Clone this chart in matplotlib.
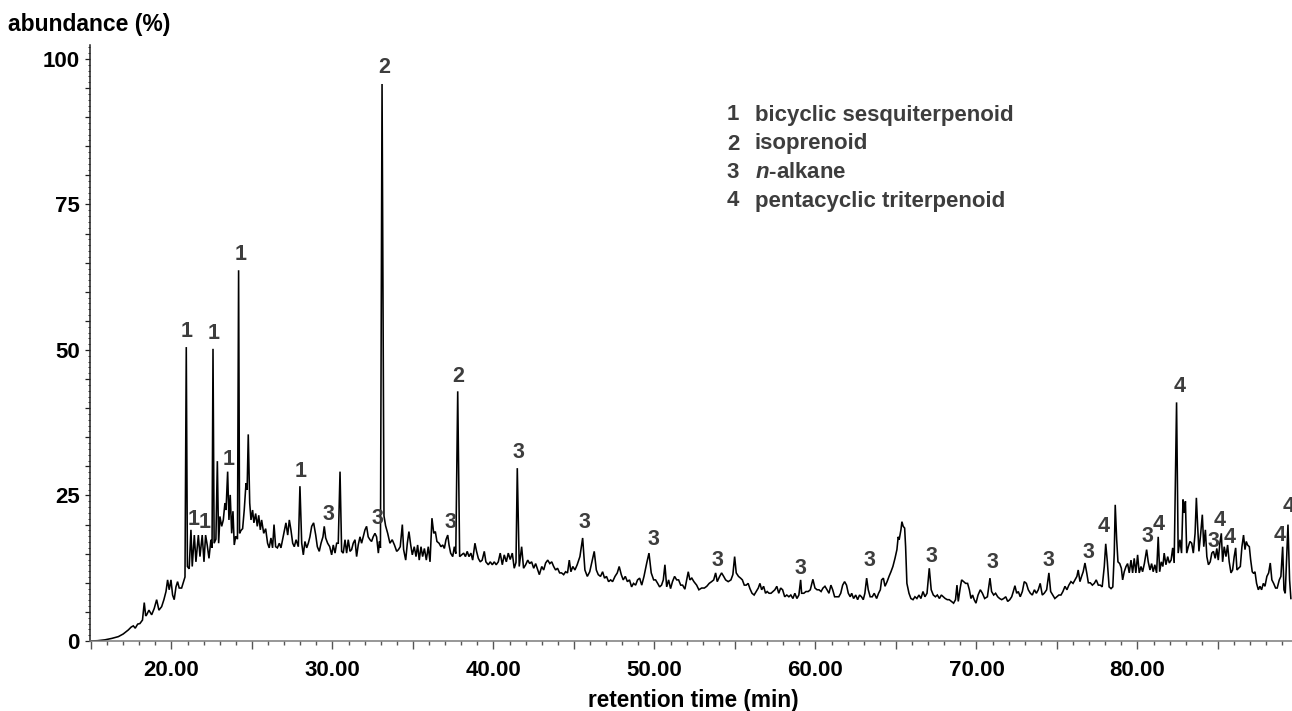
import matplotlib
matplotlib.use("Agg")
import matplotlib.pyplot as plt
from matplotlib.ticker import MultipleLocator, FuncFormatter

plt.rcParams['font.family'] = ['Liberation Sans', 'DejaVu Sans']
plt.rcParams['font.weight'] = 'bold'
plt.rcParams['mathtext.fontset'] = 'custom'
plt.rcParams['mathtext.it'] = 'Liberation Sans:italic:bold'
plt.rcParams['mathtext.rm'] = 'Liberation Sans:bold'

# ---------------- data (retention time in min, abundance in %) ----------------
time_min = [
    14.94, 15.4, 15.87, 16.3, 16.70, 17.0, 17.32, 17.5, 17.63, 17.75, 17.9, 18.04, 18.2, 18.31, 18.40,
    18.46, 18.60, 18.77, 18.93, 19.08, 19.22, 19.39, 19.53, 19.66, 19.76, 19.86, 19.97, 20.07, 20.17,
    20.28, 20.38, 20.48, 20.63, 20.78, 20.84, 20.92, 20.99, 21.10, 21.21, 21.29, 21.42, 21.52, 21.67,
    21.77, 21.91, 22.02, 22.12, 22.22, 22.33, 22.45, 22.52, 22.58, 22.65, 22.76, 22.85, 22.93, 23.01,
    23.12, 23.22, 23.32, 23.39, 23.49, 23.57, 23.65, 23.74, 23.82, 23.90, 23.99, 24.10, 24.17, 24.23,
    24.32, 24.42, 24.52, 24.63, 24.70, 24.77, 24.86, 24.94, 25.04, 25.12, 25.23, 25.33, 25.42, 25.52,
    25.60, 25.73, 25.85, 25.97, 26.07, 26.18, 26.28, 26.37, 26.47, 26.58, 26.70, 26.80, 26.90, 27.00,
    27.11, 27.22, 27.32, 27.42, 27.53, 27.63, 27.74, 27.88, 27.98, 28.09, 28.19, 28.29, 28.40, 28.50,
    28.60, 28.71, 28.83, 28.96, 29.06, 29.18, 29.29, 29.41, 29.49, 29.58, 29.70, 29.83, 29.95, 30.05,
    30.16, 30.26, 30.36, 30.47, 30.57, 30.67, 30.78, 30.88, 30.98, 31.09, 31.19, 31.29, 31.40, 31.50,
    31.60, 31.71, 31.81, 31.91, 32.02, 32.12, 32.22, 32.33, 32.43, 32.53, 32.64, 32.74, 32.85, 32.92,
    32.98, 33.08, 33.20, 33.30, 33.43, 33.57, 33.71, 33.85, 33.99, 34.10, 34.21, 34.34, 34.42, 34.55,
    34.65, 34.75, 34.86, 34.96, 35.08, 35.19, 35.29, 35.39, 35.50, 35.60, 35.71, 35.83, 35.95, 36.06,
    36.18, 36.29, 36.39, 36.49, 36.62, 36.74, 36.85, 36.95, 37.05, 37.16, 37.24, 37.34, 37.47, 37.57,
    37.66, 37.78, 37.90, 38.02, 38.15, 38.26, 38.37, 38.48, 38.60, 38.71, 38.85, 38.95, 39.06, 39.18,
    39.30, 39.43, 39.53, 39.68, 39.80, 39.93, 40.05, 40.17, 40.30, 40.42, 40.55, 40.67, 40.80, 40.92,
    41.04, 41.17, 41.29, 41.40, 41.48, 41.60, 41.75, 41.87, 42.00, 42.13, 42.25, 42.37, 42.50, 42.62,
    42.75, 42.85, 43.00, 43.12, 43.24, 43.37, 43.50, 43.62, 43.74, 43.86, 43.98, 44.11, 44.23, 44.36,
    44.48, 44.60, 44.71, 44.81, 44.93, 45.06, 45.20, 45.37, 45.54, 45.68, 45.83, 45.98, 46.10, 46.26,
    46.39, 46.51, 46.65, 46.78, 46.90, 47.02, 47.15, 47.28, 47.40, 47.55, 47.69, 47.81, 47.94, 48.06,
    48.19, 48.32, 48.45, 48.58, 48.70, 48.83, 48.95, 49.08, 49.21, 49.35, 49.52, 49.66, 49.80, 49.95,
    50.07, 50.20, 50.32, 50.44, 50.55, 50.65, 50.76, 50.88, 51.00, 51.12, 51.25, 51.38, 51.50, 51.63,
    51.75, 51.89, 52.00, 52.10, 52.20, 52.32, 52.45, 52.62, 52.76, 52.93, 53.10, 53.25, 53.40, 53.55,
    53.68, 53.80, 53.90, 54.05, 54.17, 54.30, 54.42, 54.58, 54.75, 54.87, 54.98, 55.08, 55.22, 55.35,
    55.46, 55.58, 55.70, 55.82, 55.93, 56.06, 56.19, 56.32, 56.45, 56.55, 56.66, 56.78, 56.90, 57.00,
    57.12, 57.24, 57.36, 57.48, 57.60, 57.72, 57.84, 57.96, 58.09, 58.22, 58.35, 58.47, 58.60, 58.72,
    58.85, 58.97, 59.08, 59.14, 59.28, 59.41, 59.55, 59.68, 59.84, 59.97, 60.10, 60.22, 60.35, 60.47,
    60.59, 60.72, 60.84, 60.96, 61.07, 61.19, 61.32, 61.45, 61.57, 61.69, 61.81, 61.93, 62.04, 62.16,
    62.25, 62.37, 62.50, 62.62, 62.74, 62.86, 62.97, 63.07, 63.18, 63.28, 63.40, 63.53, 63.65, 63.80,
    63.92, 64.03, 64.11, 64.22, 64.32, 64.45, 64.57, 64.69, 64.81, 64.94, 65.06, 65.14, 65.20, 65.31,
    65.37, 65.45, 65.54, 65.60, 65.68, 65.81, 65.93, 66.06, 66.18, 66.30, 66.43, 66.55, 66.68, 66.80,
    66.93, 67.07, 67.19, 67.32, 67.45, 67.57, 67.70, 67.82, 67.94, 68.06, 68.19, 68.31, 68.44, 68.58,
    68.70, 68.79, 68.87, 68.99, 69.08, 69.20, 69.33, 69.45, 69.56, 69.66, 69.76, 69.86, 69.97, 70.10,
    70.24, 70.37, 70.51, 70.68, 70.84, 70.94, 71.07, 71.19, 71.32, 71.44, 71.57, 71.69, 71.82, 71.94,
    72.07, 72.19, 72.29, 72.39, 72.50, 72.60, 72.72, 72.85, 72.97, 73.10, 73.22, 73.35, 73.47, 73.60,
    73.72, 73.84, 73.96, 74.09, 74.21, 74.36, 74.50, 74.61, 74.74, 74.87, 75.00, 75.12, 75.25, 75.37,
    75.50, 75.62, 75.74, 75.87, 76.00, 76.12, 76.24, 76.32, 76.43, 76.53, 76.63, 76.74, 76.85, 76.95,
    77.07, 77.20, 77.32, 77.44, 77.57, 77.69, 77.81, 77.94, 78.03, 78.13, 78.24, 78.36, 78.47, 78.56,
    78.62, 78.71, 78.79, 78.90, 79.00, 79.08, 79.18, 79.29, 79.39, 79.49, 79.60, 79.70, 79.80, 79.90,
    80.01, 80.11, 80.22, 80.32, 80.43, 80.57, 80.67, 80.78, 80.88, 80.98, 81.08, 81.19, 81.29, 81.38,
    81.48, 81.58, 81.66, 81.77, 81.88, 81.98, 82.09, 82.19, 82.28, 82.43, 82.53, 82.64, 82.74, 82.83,
    82.90, 82.98, 83.06, 83.16, 83.26, 83.37, 83.47, 83.58, 83.66, 83.74, 83.82, 83.93, 84.03, 84.12,
    84.22, 84.31, 84.41, 84.52, 84.62, 84.72, 84.83, 84.93, 85.02, 85.12, 85.21, 85.29, 85.39, 85.50,
    85.60, 85.70, 85.81, 85.91, 86.01, 86.10, 86.18, 86.28, 86.39, 86.49, 86.59, 86.68, 86.76, 86.84,
    86.95, 87.03, 87.13, 87.22, 87.30, 87.40, 87.51, 87.61, 87.71, 87.82, 87.92, 88.04, 88.15, 88.25,
    88.35, 88.46, 88.58, 88.68, 88.81, 88.91, 89.02, 89.10, 89.18, 89.35, 89.45, 89.53,
]
abundance = [
    0.0, 0.05, 0.2, 0.45, 0.75, 1.2, 1.9, 2.4, 2.6, 2.2, 2.9, 3.0, 3.6, 6.6, 4.3,
    4.5, 5.3, 4.5, 5.6, 7.1, 5.3, 5.9, 7.1, 8.5, 10.5, 8.8, 10.5, 7.9, 7.1,
    9.3, 10.2, 9.1, 9.1, 10.5, 11.0, 50.5, 12.8, 12.4, 19.1, 12.8, 18.2, 13.6, 18.2,
    14.5, 18.2, 13.6, 18.2, 16.5, 14.2, 17.4, 16.0, 50.2, 16.8, 17.5, 30.9, 16.8, 21.4,
    19.7, 20.8, 23.7, 22.5, 29.1, 20.8, 25.1, 18.5, 22.3, 16.5, 18.0, 17.5, 63.7, 18.5,
    19.0, 19.3, 22.5, 27.1, 26.0, 35.5, 23.7, 20.8, 22.5, 20.3, 21.9, 19.7, 21.6, 19.1,
    20.8, 18.5, 19.3, 16.8, 16.0, 17.7, 16.0, 20.0, 16.2, 16.0, 16.8, 16.0, 17.4, 18.8,
    20.3, 18.2, 20.8, 19.1, 16.8, 16.2, 17.4, 16.2, 26.6, 16.8, 14.8, 17.1, 16.0, 16.8,
    17.9, 19.7, 20.3, 18.2, 16.2, 15.4, 16.8, 17.9, 19.7, 17.7, 16.8, 16.2, 14.8, 16.5,
    15.1, 16.8, 16.8, 29.1, 15.4, 15.1, 17.4, 15.1, 17.4, 15.4, 15.7, 16.8, 17.4, 14.5,
    16.5, 17.9, 16.8, 17.9, 19.1, 19.7, 17.9, 17.4, 17.1, 17.9, 18.5, 17.9, 15.1, 17.1,
    16.0, 95.7, 21.5, 19.8, 18.5, 16.8, 17.4, 16.5, 15.4, 15.7, 16.2, 20.0, 15.7, 13.9,
    16.8, 18.8, 16.5, 14.8, 16.2, 14.5, 16.5, 13.9, 16.2, 14.5, 15.9, 13.9, 16.2, 13.6,
    21.1, 18.5, 18.8, 17.1, 16.8, 16.2, 16.5, 15.9, 17.4, 18.2, 16.5, 15.1, 14.5, 16.2,
    15.0, 42.9, 14.5, 14.8, 15.1, 14.5, 15.4, 14.5, 15.1, 13.9, 16.8, 15.4, 14.2, 13.6,
    13.9, 15.4, 13.6, 13.1, 13.6, 13.1, 13.6, 13.1, 13.6, 15.1, 13.1, 14.8, 13.6, 15.1,
    14.0, 15.1, 12.5, 13.5, 29.7, 12.8, 16.2, 12.5, 13.1, 13.9, 13.3, 13.6, 12.5, 13.3,
    12.2, 11.4, 12.8, 12.2, 13.4, 13.9, 13.3, 13.6, 12.8, 12.2, 12.5, 11.7, 11.7, 11.4,
    11.9, 11.7, 13.9, 11.9, 12.8, 12.2, 13.1, 14.5, 17.7, 12.2, 11.1, 11.9, 13.4, 15.4,
    12.2, 11.4, 11.1, 11.9, 10.8, 11.1, 10.2, 10.5, 10.2, 11.1, 11.7, 12.8, 11.4, 10.5,
    11.1, 10.2, 10.5, 9.3, 9.9, 9.6, 10.5, 10.8, 9.6, 11.1, 13.4, 15.1, 11.7, 10.5,
    10.5, 9.9, 9.3, 9.6, 10.5, 13.1, 9.3, 10.5, 9.0, 10.2, 11.1, 10.5, 10.5, 9.6,
    9.6, 8.9, 10.5, 11.9, 10.5, 10.8, 10.2, 9.6, 8.8, 9.1, 9.1, 9.4, 9.9, 10.2,
    10.5, 11.7, 10.2, 11.1, 11.7, 11.1, 10.5, 10.2, 10.5, 11.4, 14.5, 11.7, 11.1, 10.8,
    10.5, 9.6, 9.6, 9.9, 9.0, 8.2, 7.9, 8.5, 9.1, 9.9, 8.8, 9.4, 8.2, 8.5,
    8.2, 8.2, 8.5, 8.8, 9.4, 8.2, 9.1, 8.8, 7.6, 7.9, 7.6, 7.9, 7.3, 8.2,
    7.3, 7.9, 10.5, 8.2, 8.2, 8.5, 8.5, 8.8, 10.6, 9.1, 8.8, 8.8, 8.5, 9.1,
    9.4, 8.8, 8.2, 9.6, 8.8, 7.6, 7.6, 7.6, 8.2, 9.6, 10.2, 9.6, 8.2, 7.6,
    8.2, 7.3, 7.9, 7.1, 7.9, 7.6, 7.1, 8.2, 10.8, 8.8, 7.6, 7.6, 8.2, 7.3,
    8.2, 8.8, 10.5, 10.8, 9.4, 10.2, 11.1, 11.9, 12.8, 14.2, 15.7, 17.9, 17.4, 19.1,
    20.5, 19.7, 19.4, 16.2, 9.9, 8.2, 7.3, 7.1, 7.6, 7.3, 7.9, 7.3, 8.5, 7.6,
    8.2, 12.5, 8.8, 7.9, 7.6, 7.9, 7.3, 7.9, 7.6, 7.3, 7.1, 7.1, 6.8, 6.5,
    7.1, 9.6, 6.8, 9.1, 10.5, 10.2, 9.9, 9.9, 8.8, 7.3, 7.9, 7.1, 6.5, 7.9,
    8.8, 8.2, 7.3, 7.6, 10.8, 8.5, 7.9, 8.2, 7.6, 7.3, 7.1, 7.3, 7.6, 6.8,
    7.1, 7.6, 8.5, 9.5, 8.2, 8.5, 7.6, 8.5, 10.2, 9.9, 8.8, 8.2, 7.9, 8.8,
    8.2, 8.8, 9.9, 7.9, 8.2, 8.8, 11.7, 8.5, 7.9, 7.3, 7.6, 7.9, 7.9, 8.5,
    9.4, 8.8, 9.6, 10.2, 9.9, 10.5, 11.1, 12.2, 10.2, 11.1, 11.9, 13.4, 11.7, 10.0,
    10.0, 9.6, 9.9, 10.5, 9.6, 9.6, 9.3, 12.8, 16.7, 13.6, 9.3, 9.0, 9.3, 15.1,
    23.4, 17.4, 13.6, 13.3, 12.5, 10.5, 11.9, 12.8, 13.3, 11.7, 13.9, 11.7, 14.2, 11.7,
    14.8, 11.7, 12.8, 11.9, 13.3, 15.7, 13.6, 12.2, 13.3, 11.9, 13.1, 11.7, 17.9, 11.9,
    13.6, 12.8, 15.1, 13.1, 14.5, 13.4, 13.9, 16.0, 13.4, 41.0, 15.1, 17.4, 15.1, 24.3,
    22.0, 24.0, 15.1, 16.2, 17.1, 16.8, 15.1, 18.5, 24.6, 19.7, 15.4, 18.5, 21.7, 16.2,
    19.1, 14.5, 13.1, 13.6, 15.1, 15.4, 14.2, 15.9, 13.9, 16.8, 18.5, 13.6, 16.2, 14.5,
    16.5, 13.6, 11.7, 12.2, 14.5, 16.0, 12.2, 12.5, 12.8, 16.2, 18.2, 15.7, 17.1, 16.5,
    16.2, 14.0, 11.9, 11.6, 11.9, 9.9, 8.8, 9.4, 8.8, 9.9, 9.4, 11.1, 11.7, 13.4,
    10.5, 9.9, 9.1, 9.1, 10.5, 11.1, 16.2, 8.8, 8.2, 20.0, 10.5, 7.3,
]

# peak annotations: compound class number, retention time, label height
peak_numbers = ["1", "1", "1", "1", "1", "1", "1", "3", "3", "2", "3", "2", "3", "3", "3",
                "3", "3", "3", "3", "3", "3", "3", "4", "3", "4", "4", "3", "4", "4", "4", "4"]
peak_times = [20.94, 22.60, 24.32, 23.57, 21.37, 22.03, 28.01, 29.74, 32.78, 33.20, 37.30, 37.80,
              41.58, 45.64, 49.93, 53.90, 59.04, 63.34, 67.22, 70.98, 74.46, 76.94, 77.93, 80.61,
              81.29, 82.64, 84.71, 85.12, 85.70, 88.81, 89.37]
peak_heights = [53.2, 52.9, 66.4, 31.2, 20.8, 20.4, 29.1, 21.7, 21.1, 98.6, 20.3, 45.4,
                32.4, 20.3, 17.5, 13.9, 12.5, 13.8, 14.6, 13.5, 13.8, 15.2, 19.7, 17.9,
                20.1, 43.7, 17.1, 20.7, 17.8, 18.1, 23.1]

legend_numbers = ["1", "2", "3", "4"]
legend_names = ["bicyclic sesquiterpenoid", "isoprenoid", "$n$-alkane", "pentacyclic triterpenoid"]

# ---------------- figure ----------------
fig = plt.figure(figsize=(12.92, 7.11), dpi=100)
ax = fig.add_axes([90 / 1292, 70 / 711, 1202 / 1292, 596 / 711])

ax.plot(time_min, abundance, color="black", lw=1.15, solid_joinstyle="miter")

ax.set_xlim(14.94, 89.60)
ax.set_ylim(0, 102.4)

for s in ("top", "right"):
    ax.spines[s].set_visible(False)
ax.spines["left"].set_color("#202020")
ax.spines["bottom"].set_color("#7a7a7a")
ax.spines["left"].set_linewidth(1.1)
ax.spines["bottom"].set_linewidth(1.1)

ax.xaxis.set_major_locator(MultipleLocator(5))
ax.xaxis.set_minor_locator(MultipleLocator(1))
ax.xaxis.set_major_formatter(FuncFormatter(lambda v, p: f"{v:.2f}" if abs(v % 10) < 1e-6 else ""))
ax.yaxis.set_major_locator(MultipleLocator(5))
ax.yaxis.set_minor_locator(MultipleLocator(1))
ax.yaxis.set_major_formatter(FuncFormatter(lambda v, p: f"{v:.0f}" if abs(v % 25) < 1e-6 else ""))

ax.tick_params(axis="x", which="major", direction="out", length=5.5, width=1.0,
               color="#555555", pad=8, labelsize=16)
ax.tick_params(axis="x", which="minor", direction="out", length=3.2, width=1.0, color="#555555")
ax.tick_params(axis="y", which="major", direction="out", length=3.5, width=0.9,
               color="#202020", pad=4, labelsize=16)
ax.tick_params(axis="y", which="minor", direction="out", length=1.8, width=0.6, color="#202020")
for lab in ax.get_xticklabels() + ax.get_yticklabels():
    lab.set_fontweight("bold")

# peak labels
for num, t, h in zip(peak_numbers, peak_times, peak_heights):
    ax.text(t, h, num, ha="center", va="center", fontsize=15.5, fontweight="bold",
            color="#3d3d3d", clip_on=False)

# legend (text block)
leg_y = [115, 144, 172, 201]
for num, name, yy in zip(legend_numbers, legend_names, leg_y):
    fig.text(733 / 1292, 1 - yy / 711, num, ha="center", va="center", fontsize=16,
             fontweight="bold", color="#3d3d3d")
    fig.text(755 / 1292, 1 - yy / 711, name, ha="left", va="center", fontsize=16,
             fontweight="bold", color="#3d3d3d")

fig.text(8 / 1292, 1 - 24 / 711, "abundance (%)", ha="left", va="center",
         fontsize=16.5, fontweight="bold", color="black")
fig.text(693 / 1292, 1 - 700 / 711, "retention time (min)", ha="center", va="center",
         fontsize=16.3, fontweight="bold", color="black")

fig.savefig("out.png", dpi=100)
